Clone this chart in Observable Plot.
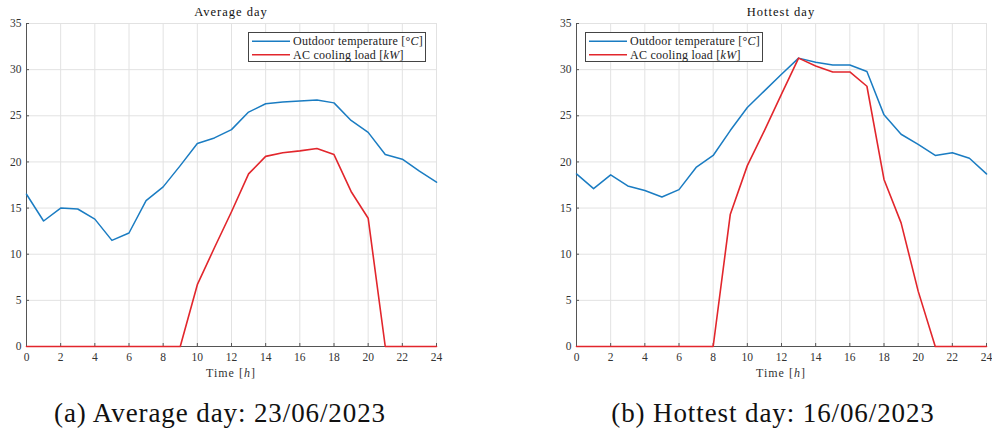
<!DOCTYPE html>
<html><head><meta charset="utf-8">
<script src="https://cdn.jsdelivr.net/npm/d3@7"></script>
<script src="https://cdn.jsdelivr.net/npm/@observablehq/plot@0.6"></script>
<style>
body{margin:0;background:#fff;width:992px;height:434px;overflow:hidden;position:relative;font-family:"Liberation Serif",serif;}
.panel{position:absolute;top:0;}
.panel svg text, .panel svg tspan{font-family:"Liberation Serif" !important;}
.cap{position:absolute;top:400px;font-size:27px;line-height:27px;letter-spacing:0.9px;text-align:center;white-space:nowrap;color:#111;font-family:"Liberation Serif";}
</style></head><body>
<div id="a" class="panel" style="left:0"></div>
<div id="b" class="panel" style="left:550px"></div>
<div class="cap" style="left:0;width:440px">(a) Average day: 23/06/2023</div>
<div class="cap" style="left:573px;width:400px">(b) Hottest day: 16/06/2023</div>
<script>
const hours = [0,1,2,3,4,5,6,7,8,9,10,11,12,13,14,15,16,17,18,19,20,21,22,23,24];
const avgTemp = [16.5,13.6,15.0,14.9,13.8,11.5,12.3,15.8,17.3,19.6,22.0,22.6,23.5,25.4,26.3,26.5,26.6,26.7,26.4,24.5,23.2,20.8,20.3,19.0,17.8];
const avgLoad = [0,0,0,0,0,0,0,0,0,0,6.7,10.7,14.6,18.7,20.6,21.0,21.2,21.45,20.8,16.8,13.9,0,0,0,0];
const hotTemp = [18.7,17.1,18.6,17.4,16.9,16.2,17.0,19.4,20.7,23.4,25.9,27.7,29.5,31.25,30.8,30.5,30.5,29.8,25.1,23.0,21.9,20.7,21.0,20.4,18.7];
const hotLoad = [0,0,0,0,0,0,0,0,0,14.3,19.6,23.4,27.35,31.25,30.4,29.75,29.75,28.2,18.1,13.4,6.0,0,0,0,0];
const xTicks = [0,2,4,6,8,10,12,14,16,18,20,22,24];
const yTicks = [0,5,10,15,20,25,30,35];
const titles = ["Average day","Hottest day"];
const seriesNames = ["Outdoor temperature","AC cooling load"];
const blue = "#1a7cc2", red = "#e2262c";

function panel(el, temp, load, title, width, marginRight, legendX) {
  const data = hours.map((h, i) => ({h, temp: temp[i], load: load[i]}));
  const chart = Plot.plot({
    width, height: 390,
    marginLeft: 26, marginRight, marginTop: 23, marginBottom: 44,
    style: {fontSize: "11.5px", color: "#333", background: "transparent"},
    x: {domain: [0, 24], label: null},
    y: {domain: [0, 35], label: null},
    marks: [
      Plot.gridX(xTicks, {stroke: "#e2e2e2", strokeOpacity: 1}),
      Plot.gridY(yTicks, {stroke: "#e2e2e2", strokeOpacity: 1}),
      Plot.axisX(xTicks, {tickSize: -3, tickPadding: 9, stroke: "#555", label: null}),
      Plot.axisY(yTicks, {tickSize: -3, tickPadding: 8, stroke: "#555", label: null}),
      Plot.ruleX([0], {stroke: "#555"}),
      Plot.ruleY([0], {stroke: "#555"}),
      Plot.line(data, {x: "h", y: "temp", stroke: blue, strokeWidth: 1.5}),
      Plot.line(data, {x: "h", y: "load", stroke: red, strokeWidth: 1.6})
    ]
  });
  const sx = chart.scale("x");
  const svg = d3.select(chart);
  const cx = sx.apply(12);
  svg.append("text").attr("x", cx).attr("y", 16).attr("text-anchor", "middle")
    .attr("font-size", 12.5).attr("letter-spacing", "1px").attr("fill", "#111").text(title);
  const xl = svg.append("text").attr("x", cx).attr("y", 377).attr("text-anchor", "middle")
    .attr("font-size", 12).attr("letter-spacing", "1px").attr("fill", "#333");
  xl.append("tspan").text("Time [");
  xl.append("tspan").attr("font-style", "italic").text("h");
  xl.append("tspan").text("]");
  const g = svg.append("g").attr("transform", `translate(${legendX},32)`);
  g.append("rect").attr("x", 0.5).attr("y", 0.5).attr("width", 177).attr("height", 29)
    .attr("fill", "white").attr("stroke", "#444").attr("stroke-width", 1);
  const rows = [[blue, seriesNames[0], "°", "C"], [red, seriesNames[1], "", "kW"]];
  rows.forEach(([c, name, pre, it], i) => {
    const y = 9.3 + i * 13.4;
    g.append("line").attr("x1", 4).attr("x2", 42).attr("y1", y).attr("y2", y)
      .attr("stroke", c).attr("stroke-width", 1.5);
    const t = g.append("text").attr("x", 45).attr("y", y + 3.8).attr("text-anchor", "start")
      .attr("font-size", 12).attr("letter-spacing", "0.25px").attr("fill", "#222");
    t.append("tspan").text(name + " [" + pre);
    t.append("tspan").attr("font-style", "italic").text(it);
    t.append("tspan").text("]");
  });
  document.getElementById(el).appendChild(chart);
}
panel("a", avgTemp, avgLoad, titles[0], 450, 14, 248);
panel("b", hotTemp, hotLoad, titles[1], 442, 6, 35);
</script>
</body></html>
